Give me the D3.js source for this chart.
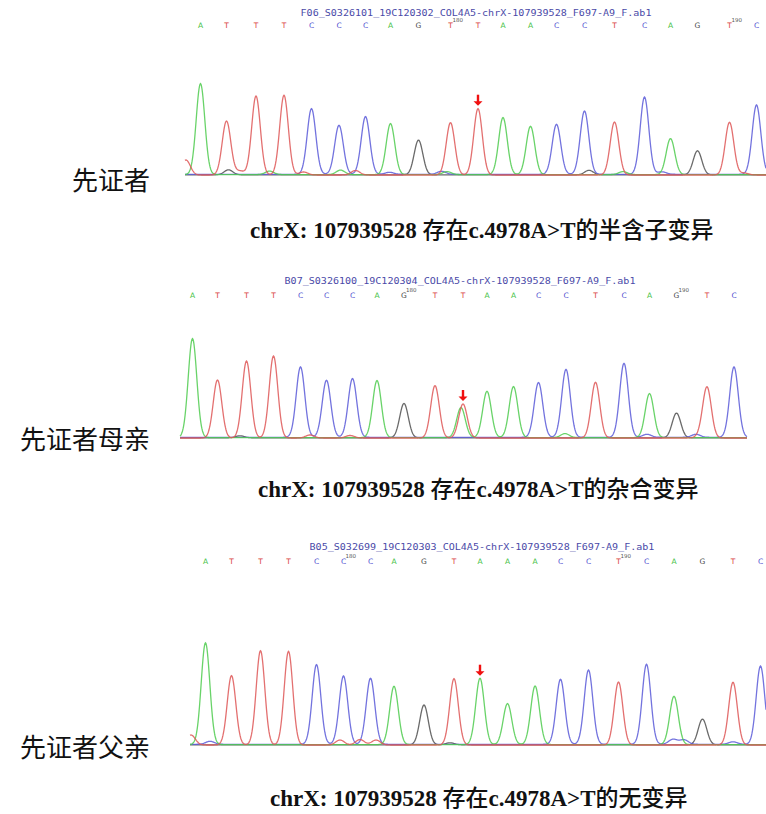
<!DOCTYPE html>
<html>
<head>
<meta charset="utf-8">
<script src="https://cdn.jsdelivr.net/npm/d3@7"></script>
<style>
  body { margin: 0; background: #fff; }
</style>
</head>
<body>
<svg id="vis" width="766" height="814"></svg>
<script>
// Encontrar el SVG
const SVG = d3.select("#vis");

// Datos: un cromatograma por persona
const ARCHIVOS = [
  "F06_S0326101_19C120302_COL4A5-chrX-107939528_F697-A9_F.ab1",
  "B07_S0326100_19C120304_COL4A5-chrX-107939528_F697-A9_F.ab1",
  "B05_S032699_19C120303_COL4A5-chrX-107939528_F697-A9_F.ab1"
];
const ETIQUETAS = ["先证者", "先证者母亲", "先证者父亲"];
const RESULTADOS = [
  "chrX: 107939528 存在c.4978A>T的半含子变异",
  "chrX: 107939528 存在c.4978A>T的杂合变异",
  "chrX: 107939528 存在c.4978A>T的无变异"
];
const BASES = [
  "ATTTCCCAGTTAACCTCAGTC",
  "ATTTCCCAGTTAACCTCAGTC",
  "ATTTCCCAGTAAACCTCAGTC"
];
// numero de la primera base llamada en cada lectura
const PRIMERA_BASE = [171, 172, 175];
const TICKS = [180, 190];
// indice de la base mutada (flecha roja)
const MUTACION = 10;

// Posicion (scan) y altura (RFU) de cada pico principal
const SCAN_1 = [31, 83, 142, 198, 253, 308, 361, 411, 467, 531, 586, 636, 691, 743, 799, 859, 919, 971, 1025, 1089, 1143];
const ALTO_1 = [1820, 1080, 1580, 1594, 1314, 980, 1154, 1020, 694, 1046, 1326, 1140, 966, 1000, 1266, 1060, 1546, 720, 480, 1054, 1386];
const SCAN_2 = [25, 75, 133, 187, 241, 293, 345, 394, 448, 510, 566, 614, 667, 717, 772, 831, 888, 939, 993, 1054, 1108];
const ALTO_2 = [1980, 1160, 1540, 1640, 1406, 1140, 1174, 1140, 686, 1046, 680, 926, 1020, 1094, 1360, 1114, 1480, 880, 494, 1014, 1406];
const SCAN_3 = [31, 83, 141, 197, 253, 307, 361, 408, 468, 528, 580, 635, 690, 741, 797, 857, 913, 968, 1025, 1086, 1141];
const ALTO_3 = [2034, 1386, 1886, 1874, 1594, 1366, 1320, 1166, 794, 1326, 1326, 820, 1146, 1300, 1486, 1260, 1600, 966, 514, 1254, 1566];

// Picos secundarios y ruido de fondo: [base, scan, altura]
const SECUNDARIOS_1 = [
  ["G", 87, 100], ["T", 110, 80], ["A", 169, 70], ["T", 237, 60], ["A", 311, 90],
  ["T", 341, 90], ["C", 409, 40], ["C", 513, 60], ["A", 524, 60], ["G", 808, 90],
  ["A", 876, 60], ["C", 954, 50], ["T", 1118, 40], ["T", 2, 300]
];
const SECUNDARIOS_2 = [
  ["A", 562, 600], ["T", 260, 60], ["T", 340, 50], ["A", 770, 80], ["C", 934, 60],
  ["C", 1032, 60], ["T", 1040, 40], ["G", 120, 40]
];
const SECUNDARIOS_3 = [
  ["C", 40, 60], ["T", 300, 100], ["T", 340, 110], ["T", 372, 100], ["C", 966, 100],
  ["C", 988, 90], ["A", 698, 40], ["C", 1086, 50], ["T", 2, 200], ["G", 520, 40]
];

const TOTAL_SCANS = [1162, 1134, 1152];

const PANELES = [
  { scans: SCAN_1, altos: ALTO_1, extra: SECUNDARIOS_1 },
  { scans: SCAN_2, altos: ALTO_2, extra: SECUNDARIOS_2 },
  { scans: SCAN_3, altos: ALTO_3, extra: SECUNDARIOS_3 }
];

// Posiciones de cada panel en la pagina
const LAYOUT = [
  { x0: 185, x1: 766, base: 175, titulo: [476, 16], letras: 28, etiqueta: 190, resultado: [250, 238] },
  { x0: 180, x1: 747, base: 438, titulo: [460, 284], letras: 298, etiqueta: 449, resultado: [258, 497] },
  { x0: 190, x1: 766, base: 745, titulo: [482, 550], letras: 564, etiqueta: 757, resultado: [270, 806] }
];

const COLOR = { A: "#4fcb4f", C: "#5a5ad8", G: "#505050", T: "#de5757" };
const COLOR_LETRA = { A: "#3fbf3f", C: "#4f4fd0", G: "#444", T: "#d94040" };
const CANAL_OFFSET = { A: 8, C: 14, G: 4, T: 0 };
const SIGMA = 8.6;

PANELES.forEach((p, k) => {
  const L = LAYOUT[k];
  const bases = BASES[k].split("");

  const x = d3.scaleLinear().domain([0, TOTAL_SCANS[k]]).range([L.x0, L.x1]);
  const y = d3.scaleLinear().domain([0, 2000]).range([L.base, L.base - 100]);

  // lista de picos por canal
  const picos = bases.map((b, i) => ({ base: b, scan: p.scans[i], alto: p.altos[i] }))
    .concat(p.extra.map(e => ({ base: e[0], scan: e[1], alto: e[2] })));

  const g = SVG.append("g").attr("class", "panel");

  // una traza por canal
  ["G", "C", "A", "T"].forEach(canal => {
    const mios = picos.filter(d => d.base === canal);
    const puntos = d3.range(0, TOTAL_SCANS[k] + 1).map(s => {
      let v = CANAL_OFFSET[canal];
      mios.forEach(d => {
        const dd = s - d.scan;
        v += d.alto * Math.exp(-dd * dd / (2 * SIGMA * SIGMA));
      });
      return [s, v];
    });
    g.append("path")
      .attr("d", d3.line().x(d => x(d[0])).y(d => y(d[1]))(puntos))
      .attr("fill", "none")
      .attr("stroke", COLOR[canal])
      .attr("stroke-width", 1.3)
      .attr("stroke-opacity", 0.85);
  });

  // nombre del archivo
  g.append("text")
    .attr("x", L.titulo[0]).attr("y", L.titulo[1])
    .attr("text-anchor", "middle")
    .attr("font-family", "DejaVu Sans Mono, monospace")
    .attr("font-size", 8.5)
    .attr("fill", "#4a4aa8")
    .attr("textLength", ARCHIVOS[k].length * 6.05)
    .attr("lengthAdjust", "spacingAndGlyphs")
    .text(ARCHIVOS[k]);

  // bases llamadas
  g.selectAll(".letra")
    .data(bases)
    .join("text")
    .attr("class", "letra")
    .attr("x", (d, i) => x(p.scans[i]))
    .attr("y", L.letras)
    .attr("text-anchor", "middle")
    .attr("font-family", "DejaVu Sans, sans-serif")
    .attr("font-size", 7.5)
    .attr("fill", d => COLOR_LETRA[d])
    .text(d => d);

  // numeracion 180 / 190
  g.selectAll(".tick")
    .data(TICKS.map(t => t - PRIMERA_BASE[k]))
    .join("text")
    .attr("class", "tick")
    .attr("x", i => x(p.scans[i]) + 2)
    .attr("y", L.letras - 6.5)
    .attr("font-family", "DejaVu Sans, sans-serif")
    .attr("font-size", 5.5)
    .attr("fill", "#555")
    .text((i, j) => TICKS[j]);

  // flecha roja sobre la base mutada
  const fx = x(p.scans[MUTACION]);
  const punta = y(p.altos[MUTACION]) - 3;
  g.append("path")
    .attr("d", `M${fx},${punta - 11}L${fx},${punta - 3}`)
    .attr("stroke", "#f01010")
    .attr("stroke-width", 2.4);
  g.append("path")
    .attr("d", `M${fx - 4.5},${punta - 4.5}L${fx + 4.5},${punta - 4.5}L${fx},${punta}Z`)
    .attr("fill", "#f01010");

  // etiqueta de la persona
  SVG.append("text")
    .attr("x", 150).attr("y", L.etiqueta)
    .attr("text-anchor", "end")
    .attr("font-family", "Noto Sans CJK SC, sans-serif")
    .attr("font-size", 26)
    .attr("fill", "#111")
    .text(ETIQUETAS[k]);

  // resultado: latin en serif negrita, chino aparte
  const partes = RESULTADOS[k].match(/[\u4e00-\u9fff]+|[^\u4e00-\u9fff]+/g);
  const res = SVG.append("text")
    .attr("x", L.resultado[0]).attr("y", L.resultado[1])
    .attr("font-size", 23)
    .attr("fill", "#111");
  res.selectAll("tspan")
    .data(partes)
    .join("tspan")
    .attr("font-family", d => /[\u4e00-\u9fff]/.test(d) ? "Noto Sans CJK SC, sans-serif" : "Liberation Serif, serif")
    .attr("font-weight", d => /[\u4e00-\u9fff]/.test(d) ? 500 : "bold")
    .text(d => d);
});
</script>
</body>
</html>
